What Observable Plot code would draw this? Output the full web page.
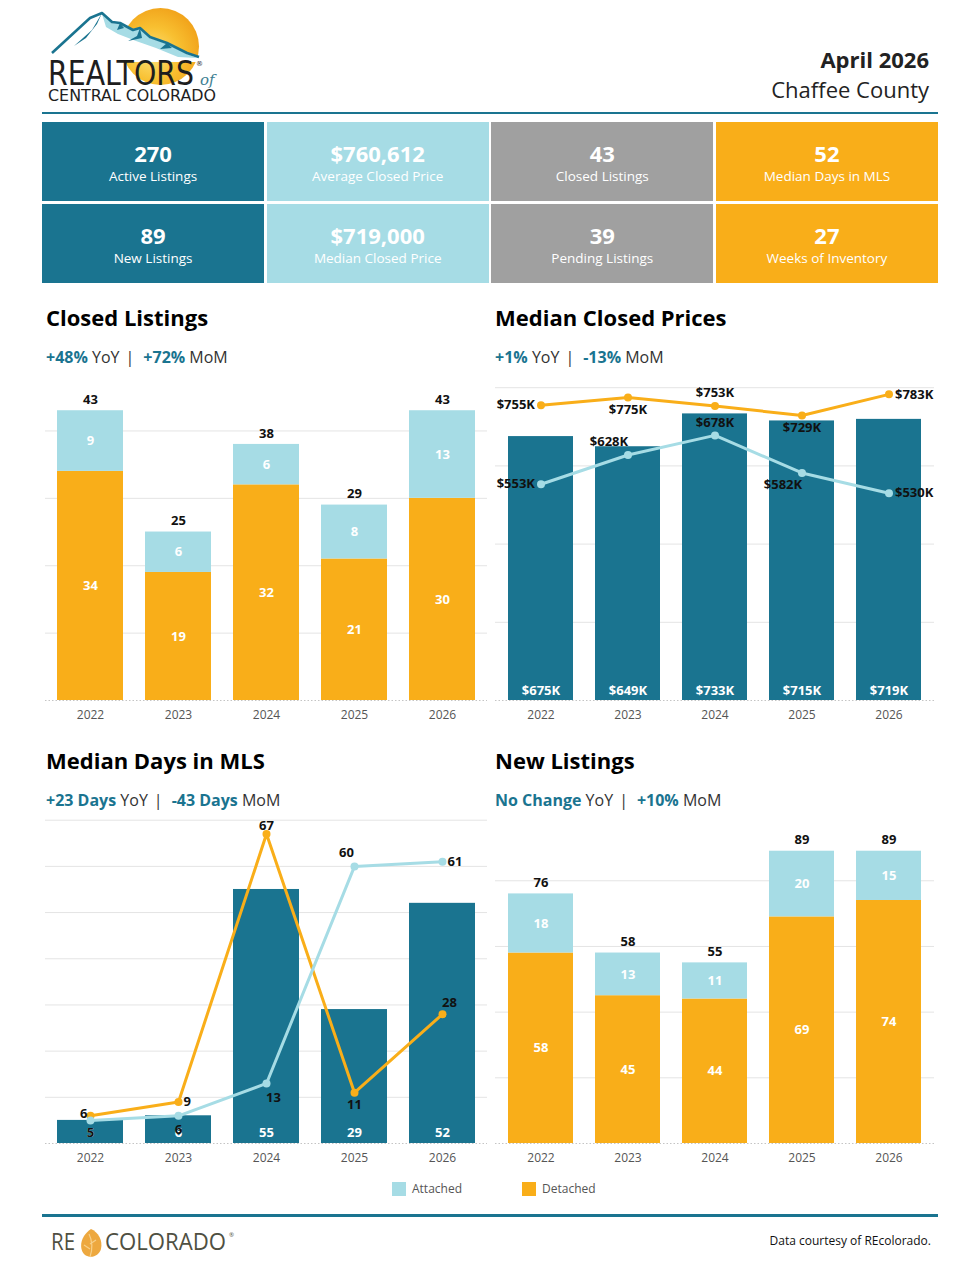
<!DOCTYPE html>
<html><head><meta charset="utf-8">
<script src="https://cdn.jsdelivr.net/npm/d3@7"></script>
<script src="https://cdn.jsdelivr.net/npm/@observablehq/plot@0.6"></script>
<style>
body{margin:0;background:#fff;font-family:"Open Sans",sans-serif;}
#page{position:relative;width:980px;height:1268px;overflow:hidden;background:#fff;}
.abs{position:absolute;}
.title{position:absolute;font-size:22px;font-weight:700;line-height:30px;color:#000;white-space:nowrap;z-index:2;}
.sub{position:absolute;font-size:16px;line-height:20px;color:#333;white-space:nowrap;z-index:2;}
.sub b{color:#1a7490;font-weight:700;}
.sub .sep{display:inline-block;margin:0 9px 0 6px;color:#333;}
.hdr{position:absolute;right:51px;font-size:22px;line-height:30px;color:#222;text-align:right;white-space:nowrap;}
#kpis{position:absolute;left:42px;top:122px;width:896px;height:161px;display:grid;grid-template-columns:repeat(4,1fr);grid-template-rows:79px 79px;column-gap:2.5px;row-gap:3px;}
.tile{color:#fff;text-align:center;padding-top:17px;box-sizing:border-box;}
.tile .n{font-size:22px;font-weight:700;line-height:28px;}
.tile .l{font-size:13.5px;line-height:18px;}
</style></head>
<body><div id="page">
<svg class="abs" style="left:0;top:0" width="240" height="110" viewBox="0 0 240 110">
  <defs>
    <radialGradient id="sun" cx="0.4" cy="0.6" r="0.7">
      <stop offset="0" stop-color="#fde27a"/><stop offset="0.5" stop-color="#f8c031"/><stop offset="1" stop-color="#f09d16"/>
    </radialGradient>
  </defs>
  <circle cx="160.5" cy="46.5" r="38.5" fill="url(#sun)"/>
  <path d="M52,53 L90,18 L102,13 L112,22 L120,23 L133,30 L140,28 L150,37 L167,43 L187,53 L199,57 L199,62 L52,62 Z" fill="#fff"/>
  <path d="M102,14 L112,23 L120,24 L133,31 L140,29 L150,38 L167,44 L187,54 L197,58 L178,57 L156,48 L136,41 L118,34 L106,27 Z" fill="#a6dce5"/>
  <path d="M102,13 L97,24 L86,38 L74,46 L92,30 Z" fill="#1a7490"/>
  <path d="M140,28 L137,36 L128,41 L142,38 Z M120,23 L117,30 L124,28 Z M167,43 L160,49 L172,48 Z" fill="#1a7490"/>
  <path d="M52,53 L90,18 L102,13 L112,22 L120,23 L133,30 L140,28 L150,37 L167,43 L187,53 L199,57" fill="none" stroke="#1a7490" stroke-width="2.6" stroke-linejoin="round"/>
  <text x="48" y="85" font-family="'DejaVu Sans Condensed','DejaVu Sans',sans-serif" font-size="33" fill="#1e1e1e" textLength="146" lengthAdjust="spacingAndGlyphs">REALTORS</text>
  <text x="196" y="66" font-family="'DejaVu Sans',sans-serif" font-size="7" fill="#1e1e1e">®</text>
  <text x="200" y="85" font-family="'DejaVu Serif',serif" font-style="italic" font-size="15" fill="#3d7f92">of</text>
  <text x="48" y="101" font-family="'DejaVu Sans Condensed','DejaVu Sans',sans-serif" font-size="16.5" fill="#1e1e1e" textLength="168" lengthAdjust="spacingAndGlyphs">CENTRAL COLORADO</text>
</svg>
<div class="hdr" style="top:44px;font-weight:700">April 2026</div>
<div class="hdr" style="top:74px">Chaffee County</div>
<div class="abs" style="left:42px;top:112px;width:896px;height:2px;background:#1a7490"></div>
<div id="kpis"></div>

<div class="title" style="left:46px;top:302px">Closed Listings</div>
<div class="sub" style="left:46px;top:347px"><b>+48%</b> YoY<span class="sep">|</span><b>+72%</b> MoM</div>
<div class="title" style="left:495px;top:302px">Median Closed Prices</div>
<div class="sub" style="left:495px;top:347px"><b>+1%</b> YoY<span class="sep">|</span><b>-13%</b> MoM</div>
<div class="title" style="left:46px;top:745px">Median Days in MLS</div>
<div class="sub" style="left:46px;top:790px"><b>+23 Days</b> YoY<span class="sep">|</span><b>-43 Days</b> MoM</div>
<div class="title" style="left:495px;top:745px">New Listings</div>
<div class="sub" style="left:495px;top:790px"><b>No Change</b> YoY<span class="sep">|</span><b>+10%</b> MoM</div>

<div class="abs" style="left:42px;top:1214px;width:896px;height:3px;background:#1a7490"></div>
<svg class="abs" style="left:40px;top:1222px" width="220" height="40" viewBox="0 0 220 40">
  <text x="11" y="28" font-family="'Open Sans',sans-serif" font-weight="400" font-size="23" fill="#4f5042" textLength="24" lengthAdjust="spacingAndGlyphs">RE</text>
  <path d="M51,7 C58,10 63,18 61,27 C59,34 51,37 45,33 C40,29 40,20 44,14 C46,11 48,9 51,7 Z" fill="#eda83f"/>
  <path d="M49,12 C52,18 53,26 50,35 M50,22 L56,18 M50,27 L44,23" stroke="#f7d08a" stroke-width="1.2" fill="none"/>
  <text x="65" y="28" font-family="'Open Sans',sans-serif" font-weight="400" font-size="23" fill="#4f5042" textLength="121" lengthAdjust="spacingAndGlyphs">COLORADO</text>
  <text x="189" y="15" font-family="'Open Sans',sans-serif" font-size="6" fill="#4f5042">®</text>
</svg>
<div class="abs" style="right:49px;top:1232px;font-size:12px;line-height:18px;color:#111">Data courtesy of REcolorado.</div>
</div>
<script>
// ---------- data ----------
const years = ["2022", "2023", "2024", "2025", "2026"];
const closedAttached = [9, 6, 6, 8, 13];
const closedDetached = [34, 19, 32, 21, 30];
const closedTicks = [10, 20, 30, 40];
const priceMedianK = [675, 649, 733, 715, 719];
const priceDetachedK = [755, 775, 753, 729, 783];
const priceAttachedK = [553, 628, 678, 582, 530];
const priceTicks = [200, 400, 600, 800];
const daysMedian = [5, 6, 55, 29, 52];
const daysDetached = [6, 9, 67, 11, 28];
const daysAttached = [5, 6, 13, 60, 61];
const daysTicks = [10, 20, 30, 40, 50, 60, 70];
const newAttached = [18, 13, 11, 20, 15];
const newDetached = [58, 45, 44, 69, 74];
const newTicks = [20, 40, 60, 80];
const kpiValues = ["270", "$760,612", "43", "52", "89", "$719,000", "39", "27"];
const kpiLabels = ["Active Listings", "Average Closed Price", "Closed Listings", "Median Days in MLS",
                   "New Listings", "Median Closed Price", "Pending Listings", "Weeks of Inventory"];
const seriesNames = ["Attached", "Detached"];

// ---------- styles ----------
const TEAL = "#1a7490", LB = "#a6dce5", OR = "#f9ae19", GRAY = "#a0a0a0", GRID = "#e4e4e4";
const FONT = "'Open Sans', sans-serif";
const page = document.getElementById("page");
const tileColors = [TEAL, LB, GRAY, OR];

// KPI tiles
const kpis = document.getElementById("kpis");
kpiValues.forEach((v, i) => {
  const t = document.createElement("div");
  t.className = "tile";
  t.style.background = tileColors[i % 4];
  t.innerHTML = `<div class="n">${v}</div><div class="l">${kpiLabels[i]}</div>`;
  kpis.appendChild(t);
});

function put(el, left, top) {
  el.style.position = "absolute";
  el.style.left = left + "px";
  el.style.top = top + "px";
  page.appendChild(el);
}
const baseStyle = {fontFamily: FONT, fontSize: "12px", color: "#555", background: "none", overflow: "visible"};
const xOpts = () => ({domain: years, paddingInner: 0.25, paddingOuter: 0.125, align: 0.5, tickSize: 0, tickPadding: 10, label: null});

function stackRows(att, det) {
  const rows = [];
  years.forEach((yr, i) => {
    rows.push({year: yr, type: "Detached", value: det[i], y1: 0, y2: det[i]});
    rows.push({year: yr, type: "Attached", value: att[i], y1: det[i], y2: det[i] + att[i]});
  });
  return rows;
}
function stackedChart(att, det, ticks, ymax, height, mLeft, mRight) {
  const rows = stackRows(att, det);
  const totals = years.map((yr, i) => ({year: yr, total: att[i] + det[i]}));
  return Plot.plot({
    width: 490, height, marginTop: 10, marginBottom: 30, marginLeft: mLeft, marginRight: mRight,
    style: baseStyle,
    x: xOpts(),
    y: {domain: [0, ymax], axis: null},
    color: {domain: seriesNames, range: [LB, OR]},
    marks: [
      Plot.ruleY(ticks, {stroke: GRID}),
      Plot.ruleY([0], {stroke: "#c4c4c4", strokeDasharray: "1.5,2"}),
      Plot.barY(rows, {x: "year", y1: "y1", y2: "y2", fill: "type"}),
      Plot.text(rows, {x: "year", y: d => (d.y1 + d.y2) / 2, text: d => String(d.value), fill: "white", fontWeight: 700, fontSize: 13}),
      Plot.text(totals, {x: "year", y: "total", text: d => String(d.total), dy: -11, fill: "#111", fontWeight: 700, fontSize: 13})
    ]
  });
}

// label placements (style, not data)
const OFF = {
  left: {textAnchor: "end", dx: -6}, right: {textAnchor: "start", dx: 6},
  above: {dy: -13}, below: {dy: 12},
  aboveLeft: {dx: -19, dy: -13}, belowLeft: {dx: -19, dy: 12},
  aboveRight: {dx: 7, dy: -11}, belowRight: {dx: 7, dy: 14},
  nearLeft: {textAnchor: "end", dx: -3, dy: -2}, nearAbove: {dy: -8}, below14: {dy: 14},
  aboveLeft2: {dx: -8, dy: -14}, right5: {textAnchor: "start", dx: 5}
};
function pointLabels(vals, places, fmt) {
  return years.map((yr, i) => Plot.text([{year: yr, v: vals[i]}],
    {x: "year", y: "v", text: d => fmt(d.v), fill: "#111", fontWeight: 700, fontSize: 13, ...OFF[places[i]]}));
}
function lineMarks(vals, color) {
  const rows = years.map((yr, i) => ({year: yr, v: vals[i]}));
  return [
    Plot.line(rows, {x: "year", y: "v", stroke: color, strokeWidth: 3}),
    Plot.dot(rows, {x: "year", y: "v", fill: color, r: 4})
  ];
}
const kfmt = v => "$" + v + "K";

// Closed Listings
put(stackedChart(closedAttached, closedDetached, closedTicks, 48.97, 370, 45, 3), 0, 360);

// Median Closed Prices
const priceRows = years.map((yr, i) => ({year: yr, v: priceMedianK[i]}));
put(Plot.plot({
  width: 490, height: 370, marginTop: 10, marginBottom: 30, marginLeft: 5, marginRight: 46,
  style: baseStyle, x: xOpts(), y: {domain: [0, 844], axis: null},
  marks: [
    Plot.ruleY(priceTicks, {stroke: GRID}),
    Plot.ruleY([0], {stroke: "#c4c4c4", strokeDasharray: "1.5,2"}),
    Plot.barY(priceRows, {x: "year", y: "v", fill: TEAL}),
    Plot.text(priceRows, {x: "year", y: 0, text: d => kfmt(d.v), dy: -10, fill: "white", fontWeight: 700, fontSize: 13}),
    ...lineMarks(priceDetachedK, OR),
    ...lineMarks(priceAttachedK, LB),
    ...pointLabels(priceDetachedK, ["left", "below", "above", "below", "right"], kfmt),
    ...pointLabels(priceAttachedK, ["left", "aboveLeft", "above", "belowLeft", "right"], kfmt)
  ]
}), 490, 360);

// Median Days in MLS
const dayRows = years.map((yr, i) => ({year: yr, v: daysMedian[i]}));
put(Plot.plot({
  width: 490, height: 373, marginTop: 10, marginBottom: 30, marginLeft: 45, marginRight: 3,
  style: baseStyle, x: xOpts(), y: {domain: [0, 72.1], axis: null},
  marks: [
    Plot.ruleY(daysTicks, {stroke: GRID}),
    Plot.ruleY([0], {stroke: "#c4c4c4", strokeDasharray: "1.5,2"}),
    Plot.barY(dayRows, {x: "year", y: "v", fill: TEAL}),
    Plot.text(dayRows, {x: "year", y: 0, text: d => String(d.v), dy: -11, fill: "white", fontWeight: 700, fontSize: 13}),
    ...lineMarks(daysDetached, OR),
    ...lineMarks(daysAttached, LB),
    ...pointLabels(daysDetached, ["nearLeft", "right5", "nearAbove", "below", "aboveRight"], String),
    ...pointLabels(daysAttached, ["below", "below14", "belowRight", "aboveLeft2", "right5"], String)
  ]
}), 0, 800);

// New Listings
put(stackedChart(newAttached, newDetached, newTicks, 101.4, 373, 5, 46), 490, 800);

// Legend
const leg = Plot.legend({
  color: {domain: seriesNames, range: [LB, OR]},
  legend: "swatches", swatchSize: 14,
  style: {fontFamily: FONT, fontSize: "12px", color: "#555", background: "none"}
});
put(leg, 392, 1172);
leg.querySelectorAll("span").forEach(s => { s.style.marginRight = "60px"; });
leg.querySelectorAll("svg").forEach(s => { s.style.marginRight = "6px"; });
</script>
</body></html>
